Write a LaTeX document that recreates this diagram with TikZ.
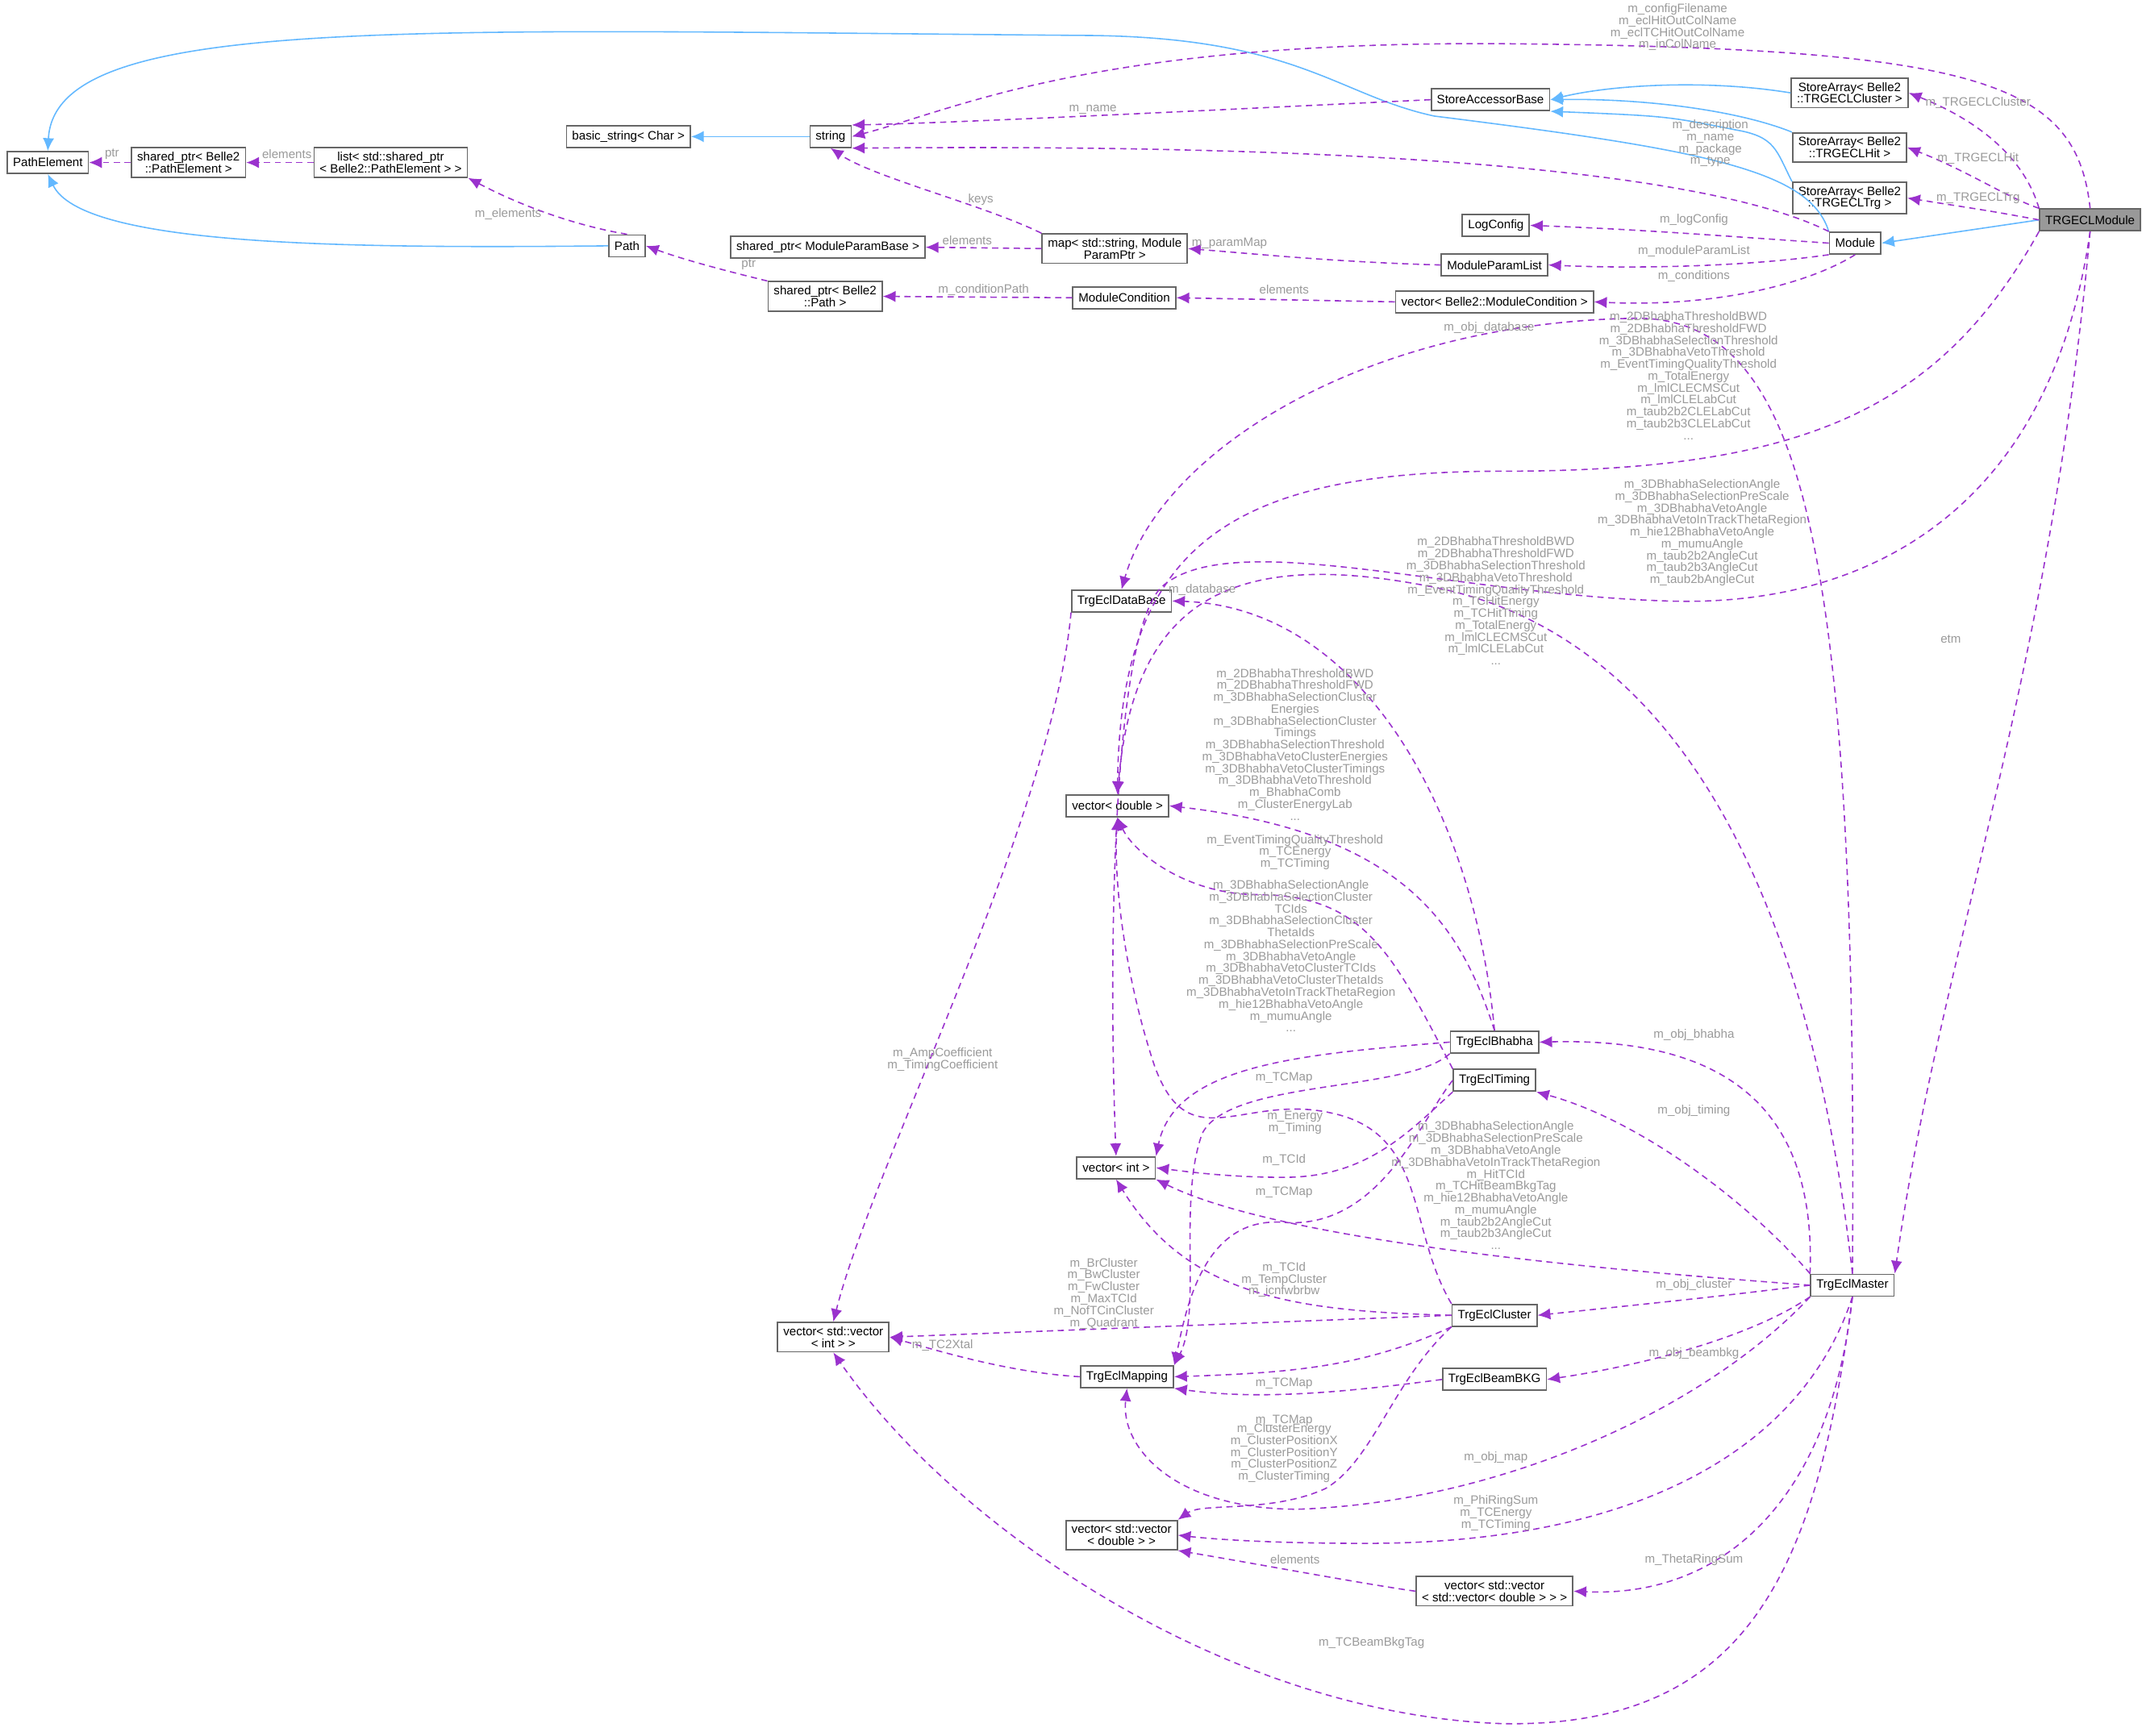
\documentclass[tikz,border=0pt]{standalone}
\usepackage{fontspec}
\setmainfont{Liberation Sans}
\usetikzlibrary{arrows.meta}
\definecolor{inhblue}{HTML}{63B8FF}
\definecolor{usepurple}{HTML}{9A32CD}
\definecolor{lblgray}{HTML}{9A9A9A}
\tikzset{
  cls/.style={rectangle,draw=black!60,fill=white,line width=0.5pt,inner xsep=2pt,inner ysep=1.5pt,
    minimum height=0.27cm,align=center,font=\fontsize{4.3}{4.2}\selectfont},
  inh/.style={draw=inhblue,line width=0.45pt,-{Latex[length=4.5pt,width=4pt]}},
  use/.style={draw=usepurple,line width=0.45pt,dash pattern=on 2.2pt off 1.6pt,-{Latex[length=4.5pt,width=4pt]}},
  lbl/.style={text=lblgray,align=center,inner sep=0pt,font=\fontsize{4.3}{4.2}\selectfont}
}
\begin{document}
\begin{tikzpicture}[x=0.01694cm,y=-0.01694cm]
    \useasboundingbox (0,0) rectangle (1568,1271);
    % classes
    \node[cls,fill=black!40] (TRG) at (1530,161) {TRGECLModule};
    \node[cls] (Module) at (1358,178) {Module};
    \node[cls] (SAC) at (1354,68) {StoreArray< Belle2\\::TRGECLCluster >};
    \node[cls] (SAH) at (1354,108) {StoreArray< Belle2\\::TRGECLHit >};
    \node[cls] (SAT) at (1354,145) {StoreArray< Belle2\\::TRGECLTrg >};
    \node[cls] (SAB) at (1091,73) {StoreAccessorBase};
    \node[cls] (LogCfg) at (1095,165) {LogConfig};
    \node[cls] (MPL) at (1094,194) {ModuleParamList};
    \node[cls] (VecCond) at (1094,221) {vector< Belle2::ModuleCondition >};
    \node[cls] (Str) at (608,100) {string};
    \node[cls] (BStr) at (460,100) {basic\_string< Char >};
    \node[cls] (PE) at (35,119) {PathElement};
    \node[cls] (SpPE) at (138,119) {shared\_ptr< Belle2\\::PathElement >};
    \node[cls] (ListPE) at (286,119) {list< std::shared\_ptr\\< Belle2::PathElement > >};
    \node[cls] (Path) at (459,180) {Path};
    \node[cls] (SpMPB) at (606,181) {shared\_ptr< ModuleParamBase >};
    \node[cls] (Map) at (816,182) {map< std::string, Module\\ParamPtr >};
    \node[cls] (SpPath) at (604,217) {shared\_ptr< Belle2\\::Path >};
    \node[cls] (ModCond) at (823,218) {ModuleCondition};
    \node[cls] (DB) at (821,440) {TrgEclDataBase};
    \node[cls] (VecD) at (818,590) {vector< double >};
    \node[cls] (VecI) at (817,855) {vector< int >};
    \node[cls] (VVI) at (610,979) {vector< std::vector\\< int > >};
    \node[cls] (Mapping) at (825,1008) {TrgEclMapping};
    \node[cls] (VVD) at (821,1124) {vector< std::vector\\< double > >};
    \node[cls] (VVVD) at (1094,1165) {vector< std::vector\\< std::vector< double > > >};
    \node[cls] (Bhabha) at (1094,763) {TrgEclBhabha};
    \node[cls] (Timing) at (1094,791) {TrgEclTiming};
    \node[cls] (Cluster) at (1094,963) {TrgEclCluster};
    \node[cls] (BKG) at (1094,1010) {TrgEclBeamBKG};
    \node[cls] (Master) at (1356,941) {TrgEclMaster};

    % inheritance
    \draw[inh] (TRG.west) -- (Module.east);
    \draw[inh] (Module.north west) .. controls (1325,125) and (1250,110) .. (1050,85) .. controls (980,70) and (950,28) .. (800,26) .. controls (300,22) and (40,10) .. (PE.north);
    \draw[inh] (SAC.west) .. controls (1250,58) and (1180,62) .. (SAB.east);
    \draw[inh] (SAH.north west) .. controls (1270,80) and (1200,72) .. (SAB.east);
    \draw[inh] (SAT.north west) .. controls (1300,110) and (1300,100) .. (1270,95) .. controls (1220,85) .. (SAB.south east);
    \draw[inh] (Path.west) .. controls (250,182) and (60,180) .. (PE.south);
    \draw[inh] (Str.west) -- (BStr.east);

    % usage
    \draw[use] (TRG.north) .. controls (1520,60) and (1450,35) .. (1100,32) .. controls (800,30) and (700,80) .. (Str.east);
    \node[lbl] (lConf) at (1228,20) {m\_configFilename\\m\_eclHitOutColName\\m\_eclTCHitOutColName\\m\_inColName};
    \draw[use] (SAB.west) .. controls (900,80) and (700,90) .. (Str.north east);
    \node[lbl] (lName) at (800,80) {m\_name};
    \draw[use] (Module.north west) .. controls (1250,125) and (1000,105) .. (Str.south east);
    \node[lbl] (lDesc) at (1252,105) {m\_description\\m\_name\\m\_package\\m\_type};
    \draw[use] (TRG.north west) .. controls (1480,110) and (1440,85) .. (SAC.east);
    \node[lbl] (lSAC) at (1448,75) {m\_TRGECLCluster};
    \draw[use] (TRG.north west) .. controls (1470,145) and (1440,125) .. (SAH.east);
    \node[lbl] (lSAH) at (1448,116) {m\_TRGECLHit};
    \draw[use] (TRG.west) .. controls (1460,155) .. (SAT.east);
    \node[lbl] (lSAT) at (1448,145) {m\_TRGECLTrg};
    \draw[use] (Module.west) .. controls (1250,172) and (1200,168) .. (LogCfg.east);
    \node[lbl] (lLog) at (1240,161) {m\_logConfig};
    \draw[use] (Module.south west) .. controls (1280,195) and (1200,197) .. (MPL.east);
    \node[lbl] (lMPL) at (1240,184) {m\_moduleParamList};
    \draw[use] (Module.south) .. controls (1320,210) and (1250,225) .. (VecCond.east);
    \node[lbl] (lCond) at (1240,202) {m\_conditions};
    \draw[use] (VecCond.west) -- (ModCond.east);
    \node[lbl] (lEl1) at (940,212) {elements};
    \draw[use] (ModCond.west) -- (SpPath.east);
    \node[lbl] (lCP) at (720,212) {m\_conditionPath};
    \draw[use] (SpPath.north west) .. controls (530,198) and (500,190) .. (Path.east);
    \node[lbl] (lPtr1) at (548,194) {ptr};
    \draw[use] (Path.north) .. controls (420,165) and (380,150) .. (ListPE.south east);
    \node[lbl] (lElem) at (372,157) {m\_elements};
    \draw[use] (ListPE.west) -- (SpPE.east);
    \node[lbl] (lEl2) at (210,113) {elements};
    \draw[use] (SpPE.west) -- (PE.east);
    \node[lbl] (lPtr2) at (82,113) {ptr};
    \draw[use] (MPL.west) .. controls (980,192) and (920,186) .. (Map.east);
    \node[lbl] (lPM) at (900,178) {m\_paramMap};
    \draw[use] (Map.west) -- (SpMPB.east);
    \node[lbl] (lEl3) at (708,176) {elements};
    \draw[use] (Map.north west) .. controls (720,150) and (640,130) .. (Str.south);
    \node[lbl] (lKeys) at (718,146) {keys};

    % trigger classes
    \draw[use] (Master.north) .. controls (1360,400) and (1320,235) .. (1200,233) .. controls (1000,235) and (850,330) .. (DB.north);
    \node[lbl] (lODB) at (1090,240) {m\_obj\_database};
    \draw[use] (TRG.south west) .. controls (1420,300) and (1320,345) .. (1100,345) .. controls (900,345) and (820,400) .. (VecD.north);
    \node[lbl] (lTRGD) at (1236,275) {m\_2DBhabhaThresholdBWD\\m\_2DBhabhaThresholdFWD\\m\_3DBhabhaSelectionThreshold\\m\_3DBhabhaVetoThreshold\\m\_EventTimingQualityThreshold\\m\_TotalEnergy\\m\_lmlCLECMSCut\\m\_lmlCLELabCut\\m\_taub2b2CLELabCut\\m\_taub2b3CLELabCut\\...};
    \draw[use] (TRG.south) .. controls (1500,380) and (1360,445) .. (1220,440) .. controls (1060,435) and (900,385) .. (850,430) .. controls (812,470) and (812,720) .. (VecI.north);
    \node[lbl] (lTRGI) at (1246,390) {m\_3DBhabhaSelectionAngle\\m\_3DBhabhaSelectionPreScale\\m\_3DBhabhaVetoAngle\\m\_3DBhabhaVetoInTrackThetaRegion\\m\_hie12BhabhaVetoAngle\\m\_mumuAngle\\m\_taub2b2AngleCut\\m\_taub2b3AngleCut\\m\_taub2bAngleCut};
    \draw[use] (TRG.south) .. controls (1500,500) and (1420,700) .. (Master.north east);
    \node[lbl] (lEtm) at (1428,468) {etm};
    \draw[use] (Master.north) .. controls (1330,700) and (1250,470) .. (1050,430) .. controls (900,400) and (830,440) .. (VecD.north);
    \node[lbl] (lMD) at (1095,440) {m\_2DBhabhaThresholdBWD\\m\_2DBhabhaThresholdFWD\\m\_3DBhabhaSelectionThreshold\\m\_3DBhabhaVetoThreshold\\m\_EventTimingQualityThreshold\\m\_TCHitEnergy\\m\_TCHitTiming\\m\_TotalEnergy\\m\_lmlCLECMSCut\\m\_lmlCLELabCut\\...};
    \draw[use] (Bhabha.north) .. controls (1080,600) and (1000,445) .. (DB.east);
    \node[lbl] (lDB) at (880,432) {m\_database};
    \draw[use] (Bhabha.north) .. controls (1070,680) and (1030,610) .. (VecD.east);
    \node[lbl] (lBD) at (948,545) {m\_2DBhabhaThresholdBWD\\m\_2DBhabhaThresholdFWD\\m\_3DBhabhaSelectionCluster\\Energies\\m\_3DBhabhaSelectionCluster\\Timings\\m\_3DBhabhaSelectionThreshold\\m\_3DBhabhaVetoClusterEnergies\\m\_3DBhabhaVetoClusterTimings\\m\_3DBhabhaVetoThreshold\\m\_BhabhaComb\\m\_ClusterEnergyLab\\...};
    \draw[use] (Timing.north west) .. controls (1020,700) and (1000,655) .. (920,655) .. controls (870,655) and (830,625) .. (VecD.south);
    \node[lbl] (lTD) at (948,624) {m\_EventTimingQualityThreshold\\m\_TCEnergy\\m\_TCTiming};
    \draw[use] (Bhabha.west) .. controls (950,772) and (860,780) .. (VecI.north east);
    \node[lbl] (lBI) at (945,700) {m\_3DBhabhaSelectionAngle\\m\_3DBhabhaSelectionCluster\\TCIds\\m\_3DBhabhaSelectionCluster\\ThetaIds\\m\_3DBhabhaSelectionPreScale\\m\_3DBhabhaVetoAngle\\m\_3DBhabhaVetoClusterTCIds\\m\_3DBhabhaVetoClusterThetaIds\\m\_3DBhabhaVetoInTrackThetaRegion\\m\_hie12BhabhaVetoAngle\\m\_mumuAngle\\...};
    \draw[use] (Bhabha.south west) .. controls (1030,800) and (900,790) .. (880,830) .. controls (862,880) and (880,960) .. (Mapping.north east);
    \node[lbl] (lBM) at (940,789) {m\_TCMap};
    \draw[use] (Timing.south west) .. controls (1030,830) and (1000,862) .. (940,862) .. controls (900,862) and (870,858) .. (VecI.east);
    \node[lbl] (lTI) at (940,849) {m\_TCId};
    \draw[use] (Timing.west) .. controls (1040,820) and (1010,900) .. (940,895) .. controls (880,890) and (868,960) .. (Mapping.north east);
    \node[lbl] (lTM) at (940,873) {m\_TCMap};
    \draw[use] (Cluster.north west) .. controls (1030,900) and (1045,830) .. (975,815) .. controls (910,800) and (870,850) .. (845,780) .. controls (825,720) and (815,650) .. (VecD.south);
    \node[lbl] (lCD) at (948,822) {m\_Energy\\m\_Timing};
    \draw[use] (Cluster.west) .. controls (950,960) and (870,950) .. (VecI.south);
    \node[lbl] (lCI) at (940,937) {m\_TCId\\m\_TempCluster\\m\_icnfwbrbw};
    \draw[use] (Cluster.west) -- (VVI.east);
    \node[lbl] (lCV) at (808,947) {m\_BrCluster\\m\_BwCluster\\m\_FwCluster\\m\_MaxTCId\\m\_NofTCinCluster\\m\_Quadrant};
    \draw[use] (Cluster.south west) .. controls (1000,1000) and (950,1005) .. (Mapping.east);
    \node[lbl] (lCM) at (940,1013) {m\_TCMap};
    \draw[use] (BKG.west) .. controls (980,1020) and (920,1025) .. (Mapping.south east);
    \node[lbl] (lKM) at (940,1040) {m\_TCMap};
    \draw[use] (Cluster.south west) .. controls (1020,1010) and (1005,1070) .. (970,1090) .. controls (930,1108) and (880,1100) .. (VVD.north east);
    \node[lbl] (lCVD) at (940,1064) {m\_ClusterEnergy\\m\_ClusterPositionX\\m\_ClusterPositionY\\m\_ClusterPositionZ\\m\_ClusterTiming};
    \draw[use] (Mapping.west) .. controls (740,1005) and (690,990) .. (VVI.east);
    \node[lbl] (lX) at (690,985) {m\_TC2Xtal};
    \draw[use] (DB.south west) .. controls (770,600) and (640,850) .. (VVI.north);
    \node[lbl] (lDBV) at (690,776) {m\_AmpCoefficient\\m\_TimingCoefficient};
    \draw[use] (Master.north west) .. controls (1330,800) and (1250,760) .. (Bhabha.east);
    \node[lbl] (lOB) at (1240,758) {m\_obj\_bhabha};
    \draw[use] (Master.north west) .. controls (1280,880) and (1200,820) .. (Timing.south east);
    \node[lbl] (lOT) at (1240,813) {m\_obj\_timing};
    \draw[use] (Master.west) .. controls (1250,935) and (950,915) .. (VecI.south east);
    \node[lbl] (lMI) at (1095,868) {m\_3DBhabhaSelectionAngle\\m\_3DBhabhaSelectionPreScale\\m\_3DBhabhaVetoAngle\\m\_3DBhabhaVetoInTrackThetaRegion\\m\_HitTCId\\m\_TCHitBeamBkgTag\\m\_hie12BhabhaVetoAngle\\m\_mumuAngle\\m\_taub2b2AngleCut\\m\_taub2b3AngleCut\\...};
    \draw[use] (Master.west) .. controls (1250,950) .. (Cluster.east);
    \node[lbl] (lOC) at (1240,941) {m\_obj\_cluster};
    \draw[use] (Master.south west) .. controls (1280,980) and (1200,1000) .. (BKG.east);
    \node[lbl] (lOK) at (1240,991) {m\_obj\_beambkg};
    \draw[use] (Master.south west) .. controls (1250,1030) and (1100,1100) .. (950,1105) .. controls (860,1105) and (820,1060) .. (Mapping.south);
    \node[lbl] (lOM) at (1095,1067) {m\_obj\_map};
    \draw[use] (Master.south) .. controls (1320,1060) and (1200,1130) .. (1000,1130) .. controls (920,1130) and (880,1126) .. (VVD.east);
    \node[lbl] (lPR) at (1095,1108) {m\_PhiRingSum\\m\_TCEnergy\\m\_TCTiming};
    \draw[use] (Master.south) .. controls (1340,1100) and (1260,1170) .. (VVVD.east);
    \node[lbl] (lTR) at (1240,1142) {m\_ThetaRingSum};
    \draw[use] (VVVD.west) .. controls (1000,1160) and (920,1145) .. (VVD.south east);
    \node[lbl] (lEl4) at (948,1142) {elements};
    \draw[use] (Master.south) .. controls (1330,1150) and (1280,1265) .. (1100,1262) .. controls (900,1255) and (700,1120) .. (VVI.south);
    \node[lbl] (lBB) at (1004,1203) {m\_TCBeamBkgTag};
\end{tikzpicture}
\end{document}
